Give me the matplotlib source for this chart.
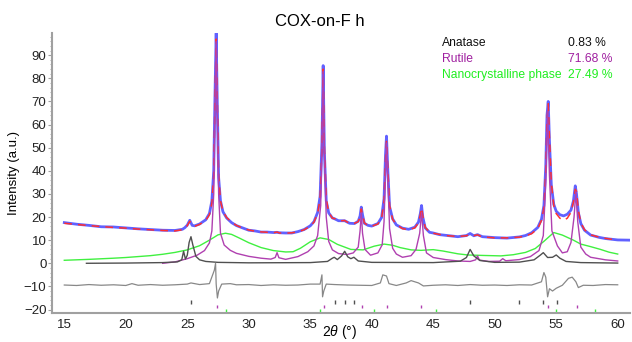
import numpy as np
import matplotlib.pyplot as plt
from matplotlib.ticker import MultipleLocator

plt.rcParams['font.family'] = ['Liberation Sans', 'DejaVu Sans']
plt.rcParams['mathtext.fontset'] = 'custom'
plt.rcParams['mathtext.it'] = 'Liberation Sans:italic'
plt.rcParams['mathtext.rm'] = 'Liberation Sans'

# calculated profile (red dashed)
calc_x = [15.0, 16, 17, 18, 19, 20, 21, 22, 23, 24, 24.6, 24.8, 25.0, 25.2, 25.4, 25.6, 26.0, 26.5, 26.8,
          27.0, 27.15, 27.25, 27.35, 27.45, 27.55, 27.7, 27.9, 28.2, 28.6, 29.0, 29.5, 30.0, 30.5, 31, 31.5,
          32.0, 32.3, 32.5, 33, 33.5, 34, 34.5, 35.0, 35.3, 35.6, 35.8, 35.95, 36.05, 36.15, 36.3, 36.5,
          36.8, 37.0, 37.3, 37.8, 38.2, 38.6, 38.9, 39.05, 39.15, 39.25, 39.4, 39.7, 40.0, 40.5, 40.8,
          41.0, 41.12, 41.2, 41.3, 41.45, 41.7, 42.0, 42.5, 43.0, 43.5, 43.8, 43.95, 44.05, 44.15, 44.35,
          44.7, 45.0, 45.5, 46, 47, 47.7, 48.0, 48.3, 48.6, 49, 50, 51, 52, 52.5, 53.0, 53.5, 53.8, 54.0,
          54.15, 54.25, 54.35, 54.45, 54.6, 54.8, 55.0, 55.3, 55.6, 55.9, 56.2, 56.4, 56.55, 56.65, 56.8,
          57.0, 57.3, 57.8, 58.5, 59.0, 60.0]
calc_y = [17.3, 16.8, 16.3, 15.9, 15.5, 15.2, 14.8, 14.5, 14.2, 14.0, 14.5, 15.2, 16.3, 18.2, 16.5, 16.0, 16.8, 18.5, 21,
          26, 38, 70, 97, 68, 38, 27, 22.5, 19.8, 17.8, 16.4, 15.2, 14.4, 13.9, 13.6, 13.4,
          13.2, 13.5, 13.1, 13.0, 13.2, 13.6, 14.5, 16.0, 17.8, 21.5, 28, 50, 84, 50, 28, 22,
          19.5, 19.3, 18.3, 18.5, 17.2, 17.3, 18, 20, 23.5, 21, 17.5, 16.3, 16.0, 17.0, 19.5,
          27, 45, 53, 42, 25, 19, 16.8, 15.0, 14.5, 15.3, 17.5, 21, 24, 20.5, 15.5,
          13.5, 13.0, 12.5, 12.0, 11.6, 11.9, 12.6, 12.0, 12.3, 11.4, 11.0, 11.0, 11.3, 11.8, 12.8, 15.0, 18.5, 24,
          40, 62, 69, 55, 35, 25, 21.5, 19.5, 18.5, 19.5, 22, 26.5, 32, 31, 23,
          17.5, 14.5, 12.3, 11.3, 10.8, 10.0]

# observed profile (blue)
obs_x = [15.0, 16, 17, 18, 19, 20, 21, 22, 23, 24, 24.6, 24.8, 25.0, 25.2, 25.4, 25.6, 26.0, 26.5, 26.8,
         27.0, 27.15, 27.25, 27.35, 27.45, 27.55, 27.7, 27.9, 28.2, 28.6, 29.0, 29.5, 30.0, 30.5, 31, 31.5,
         32.0, 32.3, 32.5, 33, 33.5, 34, 34.5, 35.0, 35.3, 35.6, 35.8, 35.95, 36.05, 36.15, 36.3, 36.5,
         36.8, 37.0, 37.3, 37.8, 38.2, 38.6, 38.9, 39.05, 39.15, 39.25, 39.4, 39.7, 40.0, 40.5, 40.8,
         41.0, 41.12, 41.2, 41.3, 41.45, 41.7, 42.0, 42.5, 43.0, 43.5, 43.8, 43.95, 44.05, 44.15, 44.35,
         44.7, 45.0, 45.5, 46, 47, 47.7, 48.0, 48.3, 48.6, 49, 50, 51, 52, 52.5, 53.0, 53.5, 53.8, 54.0,
         54.15, 54.25, 54.35, 54.45, 54.6, 54.8, 55.0, 55.3, 55.6, 55.9, 56.2, 56.4, 56.55, 56.65, 56.8,
         57.0, 57.3, 57.8, 58.5, 59.0, 60.0, 61.0]
obs_y = [17.6, 16.9, 16.4, 15.8, 15.7, 15.3, 14.9, 14.6, 14.3, 14.2, 14.7, 15.4, 16.5, 18.6, 16.4, 16.2, 17.0, 18.8, 21.5,
         27, 40, 72, 99.5, 66, 37, 27, 22.3, 19.6, 17.6, 16.3, 15.3, 14.3, 14.0, 13.5, 13.5,
         13.3, 13.4, 13.2, 13.1, 13.1, 13.7, 14.6, 16.2, 18.0, 22, 29, 52, 85.5, 48, 27, 21.8,
         19.6, 19.2, 18.4, 18.4, 17.3, 17.2, 18.2, 20.5, 24.3, 21, 17.3, 16.4, 16.1, 17.2, 19.8,
         28, 47, 55, 41, 24.5, 19.2, 16.6, 15.2, 14.7, 15.6, 17.8, 21.5, 25, 20, 15.3,
         13.4, 13.1, 12.4, 12.1, 11.5, 12.0, 12.9, 11.9, 12.4, 11.5, 11.1, 10.9, 11.4, 12.0, 13.2, 15.5, 19, 25,
         42, 64, 70, 53, 34, 25.5, 22.5, 21, 20.5, 21.2, 23, 27, 33.5, 30, 22,
         17.2, 14.3, 12.2, 11.2, 10.7, 10.1, 10.0]

# nanocrystalline phase (green)
nano_x = [15, 17, 19, 20, 21, 22, 23, 24, 25, 26, 26.8, 27.5, 28.1, 28.6, 29.2, 30, 31, 32, 33, 33.6, 34.2,
          35, 35.8, 36.5, 37.2, 38.3, 39.3, 40.2, 41.0, 41.7, 42.3, 43.2, 44.0, 45.0, 45.8, 47, 47.8, 49,
          50.5, 51.5, 52.5, 53.3, 54.0, 54.8, 55.5, 56.4, 57.0, 57.8, 58.6, 59.3, 60]
nano_y = [1.3, 1.7, 2.2, 2.5, 2.9, 3.3, 3.9, 4.7, 5.8, 7.6, 10, 12.3, 13, 12.5, 11, 8.9, 6.8, 5.5, 4.9, 5.0, 6.5,
          9.3, 11, 10.3, 8.2, 6.0, 5.8, 7.4, 8.3, 7.8, 6.8, 5.8, 5.6, 5.9, 5.3, 4.1, 3.6, 3.4,
          3.2, 3.7, 4.7, 6.4, 9.5, 13.3, 12.2, 10, 8.3, 7.2, 6.0, 4.8, 4.0]

# anatase (dark grey)
ana_x = [16.8, 20, 23, 24.2, 24.55, 24.7, 24.85, 25.0, 25.15, 25.3, 25.45, 25.7, 26.0, 26.5, 27.5, 30, 35,
         36.4, 36.8, 36.95, 37.2, 37.55, 37.8, 38.05, 38.3, 38.55, 38.9, 40, 45, 47.2, 47.7, 48.0, 48.3,
         48.8, 50, 52, 53.2, 53.7, 53.95, 54.3, 54.7, 55.0, 55.3, 55.8, 57, 60]
ana_y = [0.0, 0.1, 0.3, 0.6, 1.5, 5.2, 1.8, 3.5, 9, 11.5, 8, 3, 1.5, 0.8, 0.4, 0.2, 0.3,
         0.8, 2.2, 2.6, 1.6, 3.2, 5.2, 2.8, 2.0, 2.6, 1.0, 0.4, 0.3, 0.9, 2.5, 6.0, 3.2,
         1.2, 0.4, 0.5, 1.5, 3.5, 4.6, 2.5, 2.6, 3.6, 2.2, 0.8, 0.3, 0.1]

# rutile (purple)
rut_x = [23.0, 24, 25, 25.8, 26.4, 26.8, 27.0, 27.15, 27.25, 27.35, 27.45, 27.55, 27.7, 28.0, 28.5, 29.0,
         30.0, 31.0, 31.8, 32.15, 32.3, 32.45, 33.0, 34.0, 34.8, 35.3, 35.6, 35.85, 35.95, 36.05, 36.15,
         36.3, 36.5, 36.8, 37.3, 38.0, 38.5, 38.9, 39.05, 39.15, 39.25, 39.45, 39.9, 40.5, 40.85, 41.0,
         41.12, 41.2, 41.3, 41.45, 41.7, 42.0, 42.5, 43.2, 43.6, 43.9, 44.05, 44.2, 44.45, 45.0, 46, 47,
         48, 48.45, 48.6, 48.75, 49.5, 50.4, 50.65, 50.9, 52.0, 52.9, 53.6, 53.95, 54.15, 54.3, 54.45,
         54.65, 55.1, 55.5, 55.9, 56.2, 56.45, 56.6, 56.75, 57.0, 57.4, 57.8, 59, 60]
rut_y = [0.0, 0.6, 2.0, 3.5, 5.5, 8.8, 14, 30, 65, 96, 63, 30, 13, 7.9, 5.6, 4.3,
         3.0, 2.2, 1.8, 2.5, 4.6, 2.4, 1.7, 2.9, 5.0, 7.5, 12, 25, 50, 83, 48,
         20, 9.5, 5.8, 4.2, 3.8, 4.5, 7, 14, 22, 13, 6, 3.5, 4.5, 8, 18,
         40, 52, 38, 15, 6.5, 4.0, 2.6, 3.3, 6, 13, 22, 12, 4.5, 2.5, 1.6, 1.0,
         0.8, 1.5, 3.2, 1.4, 0.8, 0.9, 2.0, 1.1, 1.6, 2.9, 5.5, 12, 35, 66, 38,
         14, 7.5, 4.5, 5.0, 9, 20, 31, 18, 7, 4.0, 2.6, 1.5, 1.0]

# difference (grey), offset below zero
diff_x = [15, 16, 17, 18, 19, 20, 20.5, 21, 22, 23, 24, 25, 25.3, 26, 26.8, 27.2, 27.3, 27.35, 27.45, 27.55,
          27.8, 28.5, 29, 30, 31, 32, 33, 34, 35, 35.8, 35.95, 36.0, 36.1, 36.3, 37, 38, 39, 40, 40.7,
          40.9, 41.2, 41.4, 42, 42.8, 43.2, 43.8, 44.2, 45, 46, 47, 48, 49, 50, 51, 52, 53, 53.8, 54.0,
          54.15, 54.3, 54.45, 54.7, 55, 55.5, 56.0, 56.3, 56.6, 56.8, 57.2, 58, 59, 60]
diff_y = [-9.4, -9.6, -9.2, -9.5, -9.3, -9.6, -8.8, -9.5, -9.2, -9.5, -9.3, -9.0, -8.5, -9.2, -8.8, -3, 0, -9, -15, -12,
          -9, -8.8, -9.3, -9.2, -9.6, -9.3, -9.5, -9.4, -9.0, -9, -5, -14.5, -12, -9, -9.2, -9.4, -9.5, -9.6, -8.5,
          -5, -5.5, -8.8, -9.6, -8.5, -7.5, -8.5, -9.8, -9.5, -9.3, -9.6, -9.2, -9.5, -9.4, -9.6, -9.3, -9.4, -8, -4,
          -6, -14.5, -11, -12, -10.8, -9.5, -6.5, -6.0, -8, -10.5, -9.5, -9.6, -9.2, -9.3]

# reflection positions
ana_ticks = [25.3, 36.99, 37.8, 38.54, 48.03, 51.96, 53.92, 55.03]
rut_ticks = [27.4, 36.1, 39.2, 41.2, 44.0, 54.3, 56.66]
nano_ticks = [28.16, 35.77, 40.17, 45.19, 54.95, 58.12]

phases = ['Anatase', 'Rutile', 'Nanocrystalline phase']
fractions = ['0.83 %', '71.68 %', '27.49 %']

c_ana = '#505050'
c_rut = '#b040b0'
c_nano = '#40f040'
c_axis = '#a0a0a0'

fig = plt.figure(figsize=(6.32, 3.42), dpi=100)
ax = fig.add_axes([52/632, 29/342, 578/632, 280/342])

ax.plot(obs_x, obs_y, color='#3a3aff', lw=2.0, alpha=0.8)
ax.plot(calc_x, calc_y, color='#ff3030', lw=1.1, ls=(0, (5, 4)))
ax.plot(nano_x, nano_y, color=c_nano, lw=1.0)
ax.plot(rut_x, rut_y, color=c_rut, lw=1.0)
ax.plot(ana_x, ana_y, color=c_ana, lw=1.0)
ax.plot(diff_x, diff_y, color='#888888', lw=0.9)

ax.vlines(ana_ticks, -17.6, -15.9, color=c_ana, lw=1)
ax.vlines(rut_ticks, -19.5, -18.0, color=c_rut, lw=1)
ax.vlines(nano_ticks, -21.6, -19.9, color=c_nano, lw=1)

ax.set_xlim(14.0, 61.0)
ax.set_ylim(-21.5, 99.6)
ax.set_xticks(np.arange(15, 61, 5))
ax.set_yticks(np.arange(-20, 91, 10))
ax.yaxis.set_minor_locator(MultipleLocator(2))

for s in ['top', 'right']:
    ax.spines[s].set_visible(False)
for s in ['left', 'bottom']:
    ax.spines[s].set_color(c_axis)
    ax.spines[s].set_linewidth(1.5)
ax.tick_params(which='major', length=3, color=c_axis, labelsize=9.5, labelcolor='#222222', pad=1)
ax.tick_params(which='minor', length=1.5, color=c_axis)
ax.tick_params(axis='x', length=0, pad=4)

ax.set_ylabel('Intensity (a.u.)', fontsize=9.5, labelpad=3)
fig.text(340/632, 1/342, r'2$\theta$ (°)', ha='center', va='bottom', fontsize=10)
fig.text(320/632, 1 - 22/342, 'COX-on-F h', ha='center', va='center', fontsize=12)

colors = ['#111111', '#a020a0', '#20ee20']
for i in range(3):
    y = 1 - (43 + 16*i)/342
    fig.text(442/632, y, phases[i], color=colors[i], fontsize=8.7, va='center')
    fig.text(568/632, y, fractions[i], color=colors[i], fontsize=8.7, va='center')

fig.savefig('out.png', dpi=100)
